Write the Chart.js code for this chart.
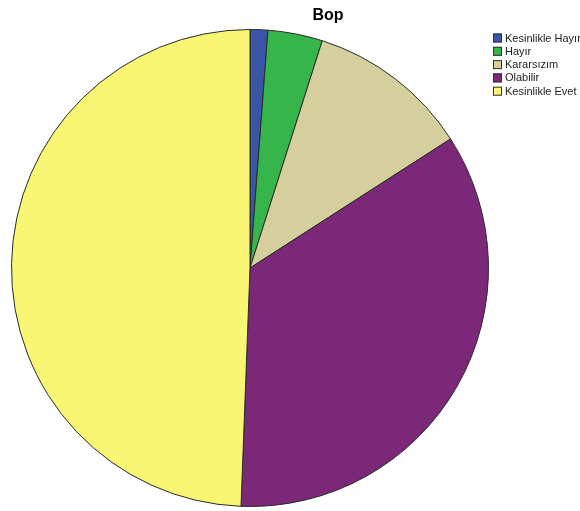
<!DOCTYPE html>
<html><head><meta charset="utf-8">
<script src="https://cdn.jsdelivr.net/npm/chart.js@4/dist/chart.umd.min.js"></script>
<style>html,body{margin:0;padding:0;background:#fff;}#wrap{width:580px;height:511px;position:relative;}</style>
</head><body><div id="wrap"><canvas id="c" width="580" height="511"></canvas></div>
<script>
const title = "Bop";
const categories = ["Kesinlikle Hayır", "Hayır", "Kararsızım", "Olabilir", "Kesinlikle Evet"];
const values = [1.2, 3.7, 11.0, 34.7, 49.4];
const colors = ["#3a55a8", "#36b54a", "#d4cf9c", "#7b2878", "#f9f674"];

const overlay = {
  id: 'overlay',
  afterDraw(chart) {
    const ctx = chart.ctx;
    ctx.save();
    ctx.fillStyle = '#000';
    ctx.font = 'bold 16px "Liberation Sans", Arial, sans-serif';
    ctx.textAlign = 'center';
    ctx.textBaseline = 'middle';
    ctx.fillText(title, 328, 16);
    ctx.font = '11px "Liberation Sans", Arial, sans-serif';
    ctx.textAlign = 'left';
    const ds = chart.data.datasets[0];
    chart.data.labels.forEach((lab, i) => {
      const y = 38 + i * 13.3;
      ctx.fillStyle = ds.backgroundColor[i];
      ctx.fillRect(493, y - 4.5, 9, 9);
      ctx.strokeStyle = '#333';
      ctx.lineWidth = 1;
      ctx.strokeRect(493.5, y - 4, 8, 8);
      ctx.fillStyle = '#222';
      ctx.fillText(lab, 505, y + 0.5);
    });
    ctx.restore();
  }
};

new Chart(document.getElementById('c'), {
  type: 'pie',
  data: {
    labels: categories,
    datasets: [{
      data: values,
      backgroundColor: colors,
      borderColor: '#2a2a2a',
      borderWidth: 1
    }]
  },
  options: {
    responsive: false,
    animation: false,
    layout: { padding: { left: 11, top: 29, bottom: 4, right: 91 } },
    plugins: { legend: { display: false }, title: { display: false }, tooltip: { enabled: false } }
  },
  plugins: [overlay]
});
</script>
</body></html>
